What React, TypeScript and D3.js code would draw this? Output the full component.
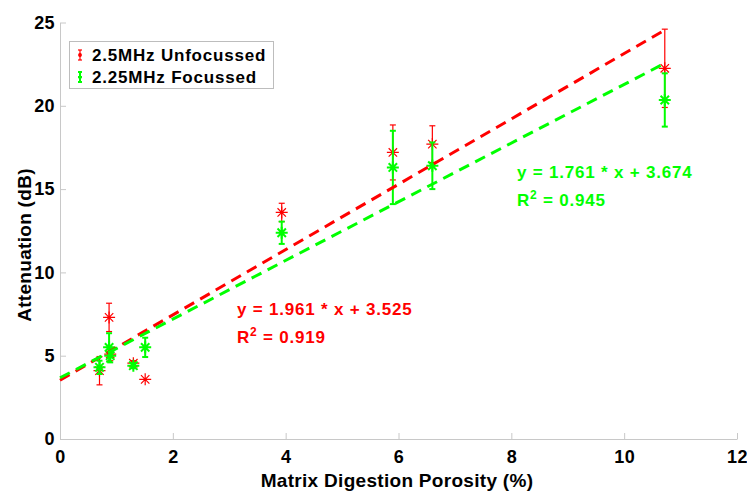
import React, { useRef, useEffect } from "react";
import * as d3 from "d3";

// matrix digestion porosity (%) for each sample
const porosity = [0.7, 0.87, 0.89, 1.3, 1.51, 3.93, 5.9, 6.6, 10.72];
// 2.5MHz unfocussed transducer
const unfocMean = [4.1, 7.3, 5.1, 4.55, 3.58, 13.6, 17.2, 17.7, 22.25];
const unfocErr = [0.85, 0.85, 0.4, 0.15, 0.0, 0.55, 1.65, 1.1, 2.35];
// 2.25MHz focussed transducer
const focMean = [4.3, 5.5, 5.0, 4.4, 5.5, 12.38, 16.3, 16.4, 20.35];
const focErr = [0.4, 0.85, 0.4, 0.15, 0.58, 0.67, 2.2, 1.4, 1.6];

const seriesNames = ["2.5MHz Unfocussed", "2.25MHz Focussed"];
const fitSlope = [1.961, 1.761];
const fitIntercept = [3.525, 3.674];
const fitR2 = ["0.919", "0.945"];

const xTicks = [0, 2, 4, 6, 8, 10, 12];
const yTicks = [0, 5, 10, 15, 20, 25];

const RED = "#ff0000";
const GREEN = "#00ff00";
const FONT = "'Liberation Sans', Arial, Helvetica, sans-serif";

const App = () => {
  const ref = useRef<SVGSVGElement>(null);

  useEffect(() => {
    const width = 747;
    const height = 491;
    const svg = d3.select(ref.current).attr("width", width).attr("height", height);
    svg.selectAll("*").remove();

    const x = d3.scaleLinear().domain([0, 12]).range([60, 737]);
    const y = d3.scaleLinear().domain([0, 25]).range([439, 22.5]);

    // axes
    const xAxis = svg.append("g")
      .attr("transform", "translate(0," + y(0) + ")")
      .call(d3.axisBottom(x).tickValues(xTicks).tickSize(-6).tickSizeOuter(0).tickPadding(11));
    const yAxis = svg.append("g")
      .attr("transform", "translate(" + x(0) + ",0)")
      .call(d3.axisLeft(y).tickValues(yTicks).tickSize(-6).tickSizeOuter(0).tickPadding(5));
    [xAxis, yAxis].forEach(ax => {
      ax.selectAll("path, line").attr("stroke", "#c8c8c8").attr("stroke-width", 1);
      ax.selectAll("text")
        .attr("fill", "#000")
        .attr("letter-spacing", 0.4)
        .style("font-family", FONT)
        .style("font-weight", "bold")
        .style("font-size", "18px");
    });

    svg.append("text")
      .attr("x", 397).attr("y", 487)
      .attr("text-anchor", "middle")
      .attr("letter-spacing", 0.3)
      .style("font-family", FONT).style("font-weight", "bold").style("font-size", "19px")
      .text("Matrix Digestion Porosity (%)");
    svg.append("text")
      .attr("transform", "translate(31,245) rotate(-90)")
      .attr("text-anchor", "middle")
      .attr("letter-spacing", 0.3)
      .style("font-family", FONT).style("font-weight", "bold").style("font-size", "19px")
      .text("Attenuation (dB)");

    const star = (r: number) =>
      `M${-r},0L${r},0M0,${-r}L0,${r}M${-0.7 * r},${-0.7 * r}L${0.7 * r},${0.7 * r}M${-0.7 * r},${0.7 * r}L${0.7 * r},${-0.7 * r}`;

    const series = [
      { mean: unfocMean, err: unfocErr, color: RED, w: 1.2 },
      { mean: focMean, err: focErr, color: GREEN, w: 2 },
    ];

    series.forEach(s => {
      const g = svg.append("g").attr("stroke", s.color).attr("stroke-width", s.w).attr("fill", "none");
      porosity.forEach((px, i) => {
        const cx = x(px);
        const lo = y(s.mean[i] - s.err[i]);
        const hi = y(s.mean[i] + s.err[i]);
        if (s.err[i] > 0) {
          g.append("line").attr("x1", cx).attr("x2", cx).attr("y1", lo).attr("y2", hi);
          g.append("line").attr("x1", cx - 3).attr("x2", cx + 3).attr("y1", lo).attr("y2", lo);
          g.append("line").attr("x1", cx - 3).attr("x2", cx + 3).attr("y1", hi).attr("y2", hi);
        }
        g.append("path").attr("d", star(6)).attr("transform", `translate(${cx},${y(s.mean[i])})`);
      });
    });

    // linear fits
    const xMax = d3.max(porosity) as number;
    fitSlope.forEach((m, k) => {
      const line = d3.line<number>().x(d => x(d)).y(d => y(m * d + fitIntercept[k]));
      svg.append("path")
        .attr("d", line([0, xMax]))
        .attr("stroke", k === 0 ? RED : GREEN)
        .attr("stroke-width", 3)
        .attr("stroke-dasharray", "11,7")
        .attr("fill", "none");
    });

    // fit annotations
    const annot = [
      { x: 237, y: 315, color: RED },
      { x: 517, y: 178, color: GREEN },
    ];
    annot.forEach((a, k) => {
      const t = svg.append("g")
        .style("font-family", FONT).style("font-weight", "bold").style("font-size", "17px")
        .attr("fill", a.color);
      t.append("text").attr("x", a.x).attr("y", a.y).attr("letter-spacing", 0.8)
        .text(`y = ${fitSlope[k].toFixed(3)} * x + ${fitIntercept[k].toFixed(3)}`);
      const r = t.append("text").attr("x", a.x).attr("y", a.y + 28).attr("letter-spacing", 0.8);
      r.append("tspan").text("R");
      r.append("tspan").attr("dy", -7).style("font-size", "12px").text("2");
      r.append("tspan").attr("dy", 7).text(" = " + fitR2[k]);
    });

    // legend
    const leg = svg.append("g");
    leg.append("rect")
      .attr("x", 69.5).attr("y", 41.5).attr("width", 204).attr("height", 47)
      .attr("fill", "#fff").attr("stroke", "#bdbdbd");
    seriesNames.forEach((name, k) => {
      const cy = 55 + k * 22;
      const c = k === 0 ? RED : GREEN;
      const lg = leg.append("g").attr("stroke", c).attr("stroke-width", k === 0 ? 1.2 : 2);
      lg.append("line").attr("x1", 80).attr("x2", 80).attr("y1", cy - 5).attr("y2", cy + 5);
      lg.append("line").attr("x1", 78).attr("x2", 82).attr("y1", cy - 5).attr("y2", cy - 5);
      lg.append("line").attr("x1", 78).attr("x2", 82).attr("y1", cy + 5).attr("y2", cy + 5);
      lg.append("path").attr("d", star(2)).attr("transform", `translate(80,${cy})`);
      leg.append("text")
        .attr("x", 92).attr("y", cy + 6)
        .attr("letter-spacing", 0.8)
        .style("font-family", FONT).style("font-weight", "bold").style("font-size", "17px")
        .text(name);
    });
  });

  return (
    <svg ref={ref} style={{ position: "absolute", left: 0, top: 0, background: "#fff" }} />
  );
};

export default App;
